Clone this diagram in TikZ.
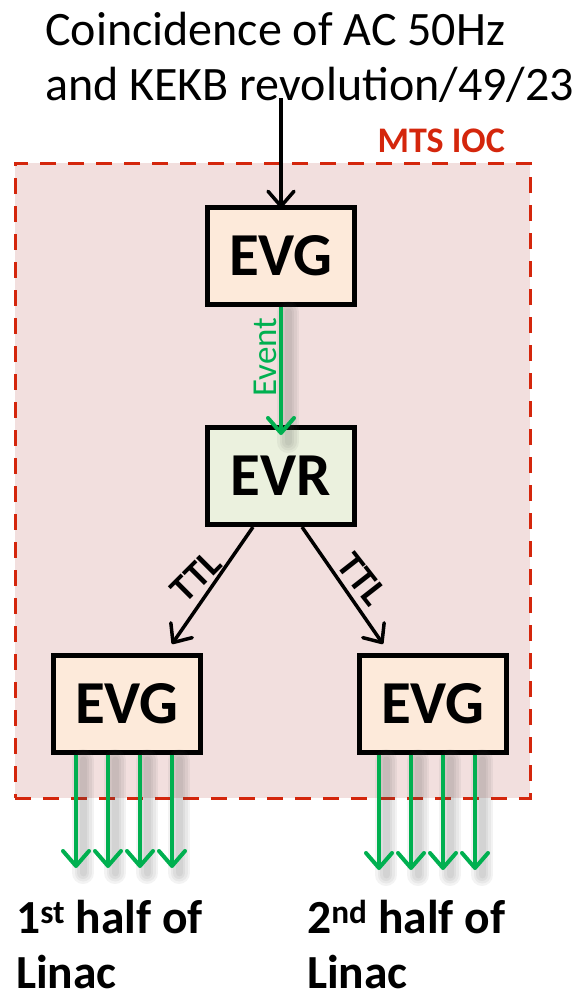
\documentclass[tikz,border=0pt]{standalone}
\usepackage{fontspec}
\setmainfont{Carlito}
\usetikzlibrary{arrows.meta}

\definecolor{iocfill}{RGB}{242,223,222}
\definecolor{iocred}{RGB}{212,38,12}
\definecolor{evgfill}{RGB}{253,234,218}
\definecolor{evrfill}{RGB}{235,241,222}
\definecolor{sigreen}{RGB}{0,176,80}

\begin{document}
\begin{tikzpicture}[x=1pt,y=-1pt,
  modbox/.style={draw=black, line width=5pt, minimum width=147pt, minimum height=97pt,
    inner sep=0pt, font=\fontsize{61}{72}\selectfont\bfseries},
  barb/.tip={Straight Barb[length=15pt,width=26pt,round]},
  blackarrow/.style={draw=black, line width=3.5pt, -barb},
  greenarrow/.style={draw=sigreen, line width=4pt, -barb},
  softshade/.style={draw=black!70, opacity=0.065, line cap=round},
  ttl/.style={anchor=base, inner sep=0pt, font=\fontsize{38}{44}\selectfont\bfseries},
  outlabel/.style={anchor=base west, align=left, inner sep=0pt,
    font=\fontsize{47.5}{55}\selectfont\bfseries}
]
\useasboundingbox (0,0) rectangle (576,990);

% IOC container
\node[draw=iocred, fill=iocfill, line width=3pt, dash pattern=on 16pt off 12pt,
      minimum width=515pt, minimum height=635pt, inner sep=0pt] (ioc) at (272.5,480.5) {};
\node[anchor=base east, inner sep=0pt, text=iocred,
      font=\fontsize{36}{43}\selectfont\bfseries] (ioclabel) at (505,152) {MTS IOC};

% trigger source (anchored at the baseline of its last line)
\node[anchor=base west, align=left, inner sep=0pt,
      font=\fontsize{48}{55}\selectfont] (src) at (45,100)
      {Coincidence of AC 50Hz\\and KEKB revolution/49/23};

% modules
\node[modbox, fill=evgfill] (evg) at (281,256) {EVG};
\node[modbox, fill=evrfill] (evr) at (281,476) {EVR};
\node[modbox, fill=evgfill] (evgL) at (127,704) {EVG};
\node[modbox, fill=evgfill] (evgR) at (433,704) {EVG};

% output end points
\coordinate (oL1) at (76,868);  \coordinate (oL2) at (108,868);
\coordinate (oL3) at (140,868); \coordinate (oL4) at (172,868);
\coordinate (oR1) at (379,870); \coordinate (oR2) at (411,870);
\coordinate (oR3) at (443,870); \coordinate (oR4) at (475,870);

% soft shadows under the green event lines
\begin{scope}[transform canvas={shift={(7pt,-5pt)}}]
  \foreach \w in {22,17,12,7} {
    \draw[softshade, line width=\w pt] (evg.south) -- ([yshift=-12pt]evr.north);
    \foreach \o in {oL1,oL2,oL3,oL4}
      \draw[softshade, line width=\w pt] (\o |- evgL.south) -- (\o);
    \foreach \o in {oR1,oR2,oR3,oR4}
      \draw[softshade, line width=\w pt] (\o |- evgR.south) -- (\o);
  }
\end{scope}

% connectors
\draw[blackarrow] ([yshift=4pt]src.south -| evg.north) -- ([yshift=-3pt]evg.north);
\draw[greenarrow] (evg.south) -- ([yshift=-10pt]evr.north);
\node[rotate=90, anchor=base, inner sep=0pt, text=sigreen,
      font=\fontsize{35}{42}\selectfont] (evlabel) at (276,357) {Event};

\draw[blackarrow] ([xshift=-28pt]evr.south) -- ([shift={(45,-9)}]evgL.north);
\draw[blackarrow] ([xshift=21pt]evr.south) -- ([shift={(-50,-9)}]evgR.north);
\node[ttl, rotate=45] (ttlL) at (205,585) {TTL};
\node[ttl, rotate=-52] (ttlR) at (352.5,586.5) {TTL};

\foreach \o in {oL1,oL2,oL3,oL4}
  \draw[greenarrow] (\o |- evgL.south) -- (\o);
\foreach \o in {oR1,oR2,oR3,oR4}
  \draw[greenarrow] (\o |- evgR.south) -- (\o);

% destinations (anchored at the baseline of the last line)
\node[outlabel] (dstL) at (16,988) {1\textsuperscript{st} half of\\Linac};
\node[outlabel] (dstR) at (307,988) {2\textsuperscript{nd} half of\\Linac};
\end{tikzpicture}
\end{document}
